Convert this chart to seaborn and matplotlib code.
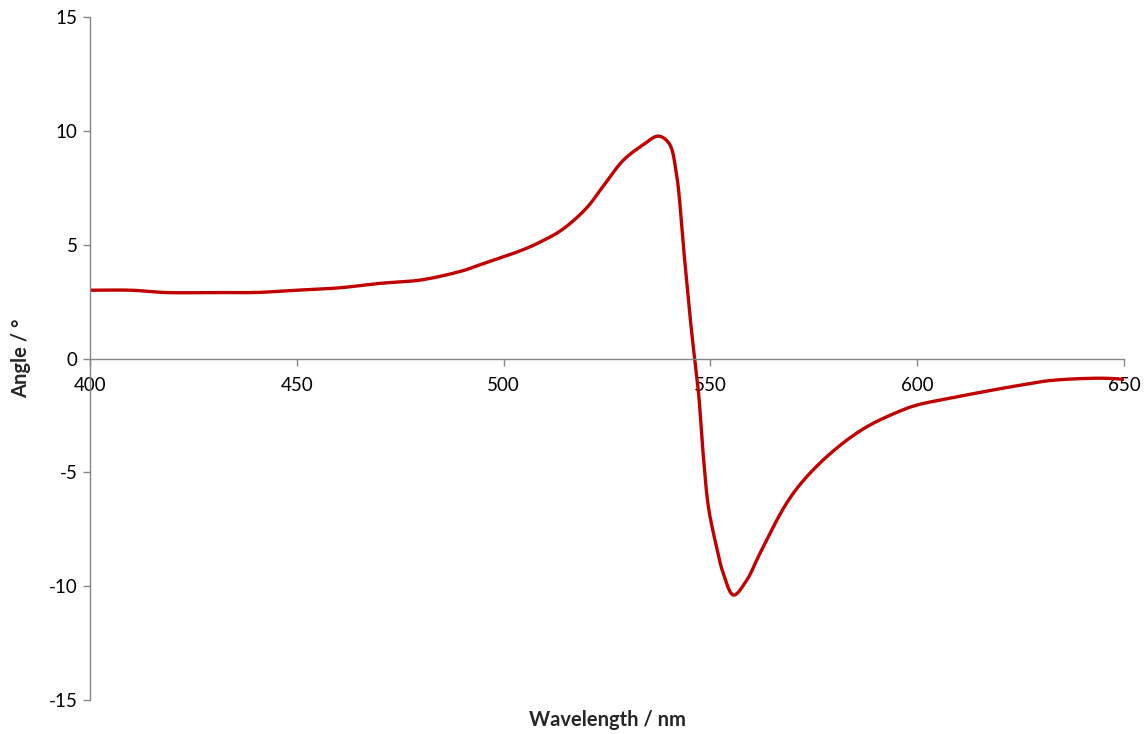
import numpy as np
import pandas as pd
import matplotlib
matplotlib.use("Agg")
import matplotlib.pyplot as plt
import seaborn as sns

wavelength = [400, 410, 418, 425, 430, 440, 450, 460, 470, 480, 490, 494, 500, 505, 509,
              514, 520, 524, 529, 533.7, 537.4, 540.0, 541.8, 543.5, 545.5,
              547.1, 548.3, 549.5, 551.1, 553.1, 555.6, 558.8, 562.0, 568.4,
              573.3, 580.5, 587.8, 595.8, 600, 608, 616, 624, 632, 641.8, 646, 650]
angle = [3.0, 3.0, 2.9, 2.89, 2.9, 2.9, 3.0, 3.1, 3.3, 3.45, 3.85, 4.1, 4.47, 4.8, 5.13,
         5.64, 6.6, 7.55, 8.72, 9.38, 9.77, 9.45, 8.1, 4.85, 1.1,
         -1.45, -4.3, -6.5, -7.97, -9.43, -10.39, -9.73, -8.55, -6.36,
         -5.19, -3.94, -3.0, -2.31, -2.04, -1.74, -1.46, -1.2, -0.97, -0.87, -0.87, -0.91]

x_ticks = [400, 450, 500, 550, 600, 650]
y_ticks = [-15, -10, -5, 0, 5, 10, 15]


def smooth_line(xs, ys, n=16, sx=4.136, sy=22.77, alpha=0.5):
    # centripetal Catmull-Rom rendering (spreadsheet-style "smoothed line")
    P = np.column_stack([np.asarray(xs, float) * sx, np.asarray(ys, float) * sy])
    P = np.vstack([2 * P[0] - P[1], P, 2 * P[-1] - P[-2]])
    out = []
    for i in range(1, len(P) - 2):
        p0, p1, p2, p3 = P[i - 1], P[i], P[i + 1], P[i + 2]
        t0 = 0.0
        t1 = t0 + np.linalg.norm(p1 - p0) ** alpha
        t2 = t1 + np.linalg.norm(p2 - p1) ** alpha
        t3 = t2 + np.linalg.norm(p3 - p2) ** alpha
        t = np.linspace(t1, t2, n, endpoint=False)[:, None]
        a1 = (t1 - t) / (t1 - t0) * p0 + (t - t0) / (t1 - t0) * p1
        a2 = (t2 - t) / (t2 - t1) * p1 + (t - t1) / (t2 - t1) * p2
        a3 = (t3 - t) / (t3 - t2) * p2 + (t - t2) / (t3 - t2) * p3
        b1 = (t2 - t) / (t2 - t0) * a1 + (t - t0) / (t2 - t0) * a2
        b2 = (t3 - t) / (t3 - t1) * a2 + (t - t1) / (t3 - t1) * a3
        c = (t2 - t) / (t2 - t1) * b1 + (t - t1) / (t2 - t1) * b2
        out.append(c)
    out.append(P[-2][None, :])
    out = np.vstack(out)
    return out[:, 0] / sx, out[:, 1] / sy


lx, ly = smooth_line(wavelength, angle)
df = pd.DataFrame({"Wavelength": lx, "Angle": ly})

sns.set_style("white")
plt.rcParams["font.family"] = ["Lato", "DejaVu Sans"]

fig = plt.figure(figsize=(11.48, 7.34), dpi=100)
ax = fig.add_axes([0.0784, 0.0463, 0.9007, 0.9305])

sns.lineplot(data=df, x="Wavelength", y="Angle", color="#C00000", linewidth=2.4,
             sort=False, estimator=None, ax=ax)

for s in ["top", "right"]:
    ax.spines[s].set_visible(False)
ax.spines["bottom"].set_position(("data", 0))
for s in ["left", "bottom"]:
    ax.spines[s].set_color("#868686")
    ax.spines[s].set_linewidth(1.0)

ax.set_xlim(400, 650)
ax.set_ylim(-15, 15)
ax.set_xticks(x_ticks)
ax.set_yticks(y_ticks)
ax.set_xticklabels([str(v) for v in x_ticks])
ax.set_yticklabels([str(v) for v in y_ticks])

ax.tick_params(axis="both", direction="out", length=5, width=1.0, color="#868686",
               labelsize=13.5, labelcolor="#000000", left=True, bottom=True)
ax.tick_params(axis="y", pad=4)
ax.tick_params(axis="x", pad=8)

ax.set_xlabel("")
ax.set_ylabel("")
fig.text(0.5287, 0.019, "Wavelength / nm", ha="center", va="center", fontsize=14.5, fontweight="bold")
fig.text(0.018, 0.512, "Angle / °", ha="center", va="center", rotation=90, fontsize=14.5, fontweight="bold")

fig.savefig("out.png", dpi=100)
